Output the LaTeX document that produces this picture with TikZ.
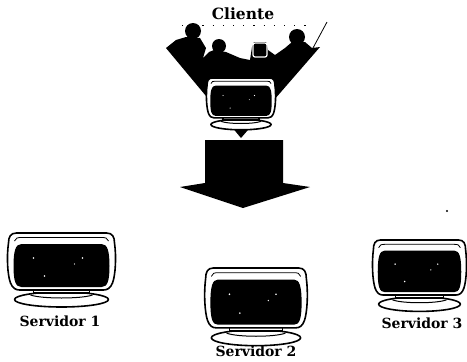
\documentclass[tikz,border=0pt]{standalone}
\usepackage{fontspec}
\setmainfont{DejaVu Serif}
\usepackage{tikz}

\tikzset{
  etiqueta/.style={font=\bfseries\fontsize{14}{16}\selectfont, inner sep=0pt},
  borde/.style={line width=1.6pt, line join=round},
}

% monitor CRT: #1,#2 = centro arriba, #3,#4 = escalas
\newcommand{\pantalla}[4]{%
  \begin{scope}[shift={(#1,#2)}, xscale=#3, yscale=#4]
    % pie
    \filldraw[fill=white, borde] (0,66.5) ellipse [x radius=47, y radius=7.5];
    \draw[line width=1pt] (-31,62) .. controls (-20,66) and (20,66) .. (31,62);
    \filldraw[fill=white, line width=1.2pt] (-28,55) rectangle (28,60);
    % carcasa
    \filldraw[fill=white, borde]
      (-45,0) -- (45,0) .. controls (51,0) and (53,4) .. (53,10)
      .. controls (55,24) and (54,42) .. (51,50)
      .. controls (49,55) and (46,57) .. (42,57) -- (-42,57)
      .. controls (-46,57) and (-49,55) .. (-51,50)
      .. controls (-54,42) and (-55,24) .. (-53,10)
      .. controls (-53,4) and (-51,0) .. (-45,0) -- cycle;
    \draw[line width=0.8pt] (-47,8) .. controls (-46,5) and (-44,4.5) .. (-40,4.5)
      -- (40,4.5) .. controls (44,4.5) and (46,5) .. (47,8);
    % vidrio
    \fill (-40,11) -- (40,11) .. controls (46,11) and (48,18) .. (48,33)
      .. controls (48,48) and (46,54) .. (40,54) -- (-40,54)
      .. controls (-46,54) and (-48,48) .. (-48,33)
      .. controls (-48,18) and (-46,11) .. (-40,11) -- cycle;
    % brillos
    \fill[white] (-28,25) circle (0.9) (21,25) circle (0.9)
      (13,31) circle (0.7) (-17,43) circle (0.9);
  \end{scope}}

\begin{document}
\begin{tikzpicture}[x=1pt, y=-1pt]
  \useasboundingbox (0,0) rectangle (467,362);

  % grupo de usuarios
  \draw[line width=0.8pt, dash pattern=on 1.2pt off 9pt] (182,25) -- (310,25);
  \fill (166,48) -- (176,40) -- (186,37) -- (200,38) -- (206,48) -- (203,58)
    -- (209,52) -- (214,50) -- (226,52) -- (240,58) -- (250,60) -- (252,47)
    -- (254,42) -- (266,42) -- (268,50) -- (275,55) -- (285,48) -- (292,42)
    -- (305,42) -- (312,48) -- (320,47) -- (241,138) -- cycle;
  \fill (193,31) circle (8) (219,46) circle (7) (297,37) circle (8);
  \filldraw[fill=black, draw=white, line width=1.2pt, rounded corners=2pt]
    (253,43) rectangle (267,57);
  \draw[line width=0.8pt] (313,48) -- (327,22);

  % estaciones
  \pantalla{241}{78}{0.64}{0.70}
  \pantalla{61.5}{233}{1}{1}
  \pantalla{256}{268}{0.95}{1.05}
  \pantalla{419.5}{240}{0.87}{0.965}

  % flecha de peticiones
  \fill (205,140) -- (283,140) -- (283,183) -- (310,187) -- (243,208)
    -- (180,187) -- (205,183) -- cycle;
  \fill (447,211) circle (1.2);

  \node[etiqueta, font=\bfseries\fontsize{15.5}{17}\selectfont] (cliente) at (243,14) {Cliente};
  \node[etiqueta] (serv1) at (60,321) {Servidor 1};
  \node[etiqueta] (serv2) at (256,351) {Servidor 2};
  \node[etiqueta] (serv3) at (422,323) {Servidor 3};
\end{tikzpicture}
\end{document}
